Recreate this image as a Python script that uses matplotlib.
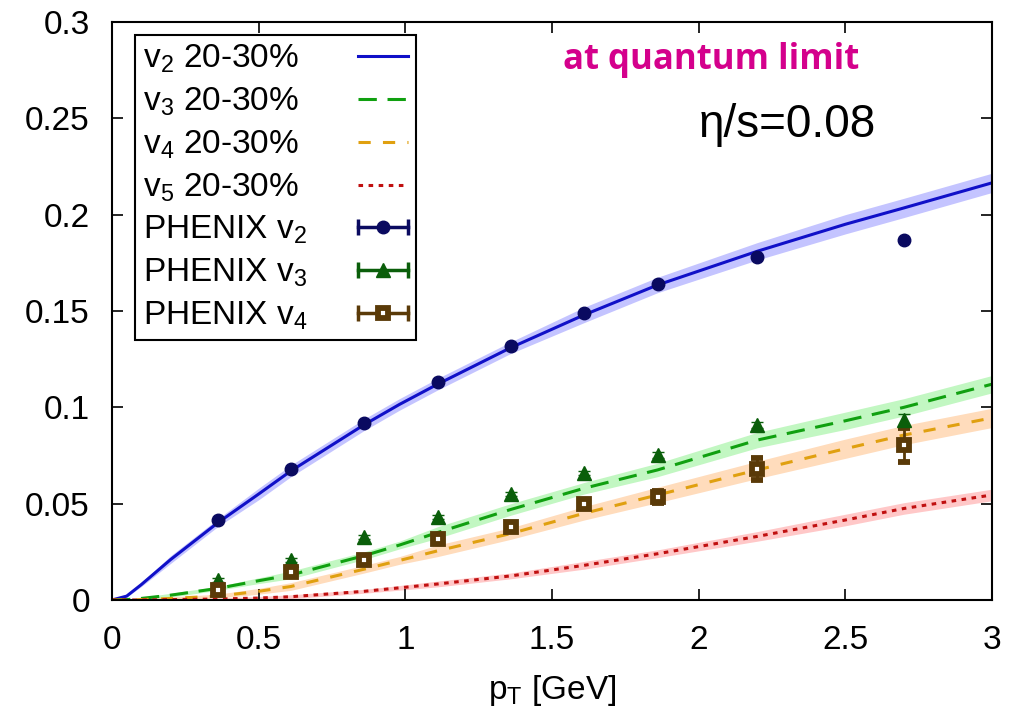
import numpy as np
import matplotlib.pyplot as plt
from matplotlib.lines import Line2D
from matplotlib.legend_handler import HandlerLine2D, HandlerTuple

plt.rcParams['font.family'] = ['Liberation Sans', 'DejaVu Sans']
plt.rcParams['mathtext.default'] = 'regular'

# ---------------- hydro curves ----------------
pt_curve = [0.0, 0.05, 0.1, 0.2, 0.36, 0.5, 0.61, 0.86, 0.98, 1.11, 1.36, 1.61, 1.86, 2.2, 2.5, 2.7, 3.0]
v2_curve = [0.0, 0.002, 0.008, 0.021, 0.040, 0.055, 0.067, 0.091, 0.1015, 0.112, 0.131, 0.148, 0.1635, 0.181, 0.195, 0.2035, 0.2165]
v3_curve = [0.0, 0.0002, 0.0008, 0.0025, 0.006, 0.0100, 0.013, 0.023, 0.0285, 0.035, 0.047, 0.058, 0.0675, 0.083, 0.093, 0.100, 0.112]
v4_curve = [0.0, 0.0, 0.0002, 0.0008, 0.002, 0.0045, 0.007, 0.016, 0.0205, 0.0255, 0.0345, 0.045, 0.0545, 0.0675, 0.0785, 0.0856, 0.0945]
v5_curve = [0.0, 0.0, 0.0, 0.0002, 0.0005, 0.001, 0.0017, 0.0045, 0.0063, 0.0083, 0.0125, 0.018, 0.024, 0.033, 0.0415, 0.0475, 0.0545]
v2_band = [0.0, 0.0005, 0.001, 0.002, 0.002, 0.003, 0.003, 0.003, 0.003, 0.003, 0.003, 0.004, 0.004, 0.0045, 0.005, 0.005, 0.005]
v3_band = [0.0, 0.0, 0.0005, 0.001, 0.001, 0.0015, 0.002, 0.002, 0.002, 0.003, 0.003, 0.003, 0.0035, 0.004, 0.0045, 0.0045, 0.0045]
v4_band = [0.0, 0.0, 0.0003, 0.0008, 0.001, 0.0015, 0.002, 0.002, 0.002, 0.003, 0.003, 0.0035, 0.004, 0.0045, 0.005, 0.005, 0.005]
v5_band = [0.0, 0.0, 0.0, 0.0003, 0.0005, 0.0008, 0.001, 0.001, 0.0012, 0.0015, 0.0015, 0.002, 0.002, 0.0025, 0.003, 0.003, 0.003]

# ---------------- PHENIX data ----------------
pt_data = [0.36, 0.61, 0.86, 1.11, 1.36, 1.61, 1.86, 2.2, 2.7]
v2_data = [0.0415, 0.068, 0.092, 0.113, 0.132, 0.149, 0.164, 0.178, 0.187]
v2_err  = [0.0005, 0.0005, 0.0005, 0.0005, 0.0005, 0.0005, 0.0005, 0.0008, 0.001]
v3_data = [0.0104, 0.0208, 0.0327, 0.043, 0.055, 0.066, 0.0753, 0.091, 0.0934]
v3_err  = [0.001, 0.001, 0.001, 0.001, 0.001, 0.001, 0.0015, 0.0015, 0.003]
v4_data = [0.0052, 0.0145, 0.021, 0.0317, 0.038, 0.050, 0.0535, 0.068, 0.0805]
v4_err  = [0.0015, 0.0015, 0.0015, 0.0015, 0.0015, 0.002, 0.003, 0.0057, 0.0088]

fig = plt.figure(figsize=(10.22, 7.14), dpi=100)
ax = fig.add_axes([0.1096, 0.1597, 0.861, 0.8095])

pt = np.array(pt_curve)
for c, b, fc in [(v2_curve, v2_band, '#c4c4ff'), (v3_curve, v3_band, '#c2f7c2'),
                 (v4_curve, v4_band, '#ffdcbc'), (v5_curve, v5_band, '#ffc8c8')]:
    c = np.array(c); b = np.array(b)
    ax.fill_between(pt, c - b, c + b, color=fc, lw=0, zorder=1)

l2, = ax.plot(pt_curve, v2_curve, '-', color='#1010c8', lw=2.2, zorder=2)
l3, = ax.plot(pt_curve, v3_curve, color='#10a010', lw=2.2, dashes=(6, 3.5), zorder=2)
l4, = ax.plot(pt_curve, v4_curve, color='#e0a010', lw=2.2, dashes=(4, 4), zorder=2)
l5, = ax.plot(pt_curve, v5_curve, color='#c01010', lw=2.2, dashes=(1.5, 1.8), zorder=2)

phenix = [(v2_data, v2_err, 'o', '#0a0a60', '#0a0a60', 9, 1),
          (v3_data, v3_err, '^', '#0a5e0a', '#0a5e0a', 10, 1),
          (v4_data, v4_err, 's', '#5a3a08', 'white', 6.5, 4.2)]
handles = [l2, l3, l4, l5]
hmap = {}
for vals, errs, mk, col, mfc, ms, mew in phenix:
    ax.errorbar(pt_data, vals, errs, fmt=mk, color=col, mfc=mfc, mec=col, mew=mew, ms=ms,
                lw=2, capsize=4, capthick=2, zorder=3)
    bar = Line2D([], [], color=col, lw=2.5, marker='|', ms=12, mew=2.5)
    dot = Line2D([], [], ls='none', marker=mk, color=col, mfc=mfc, mec=col, mew=mew, ms=ms)
    hmap[bar] = HandlerLine2D(numpoints=2, marker_pad=0)
    hmap[dot] = HandlerLine2D(numpoints=1)
    handles.append((bar, dot))
hmap[tuple] = HandlerTuple(ndivide=1, pad=0)

labels = ['v$_2$ 20-30%', 'v$_3$ 20-30%', 'v$_4$ 20-30%', 'v$_5$ 20-30%',
          'PHENIX v$_2$', 'PHENIX v$_3$', 'PHENIX v$_4$']

ax.set_xlim(0, 3)
ax.set_ylim(0, 0.3)
ax.set_xticks(np.arange(0, 3.01, 0.5))
ax.set_xticklabels(['0', '0.5', '1', '1.5', '2', '2.5', '3'])
ax.set_yticks(np.arange(0, 0.301, 0.05))
ax.set_yticklabels(['0', '0.05', '0.1', '0.15', '0.2', '0.25', '0.3'])
ax.tick_params(direction='in', length=8, width=1.2, labelsize=24, top=True, right=True)
ax.tick_params(axis='y', pad=16)
ax.tick_params(axis='x', pad=18)
for s in ax.spines.values():
    s.set_linewidth(1.5)
ax.set_xlabel('p$_T$ [GeV]', fontsize=24, labelpad=12)

ax.text(0.681, 0.934, 'at quantum limit', transform=ax.transAxes, color='#d4008c',
        fontsize=25, fontweight='bold', family='Open Sans', ha='center', va='center')
ax.text(0.768, 0.822, 'η/s=0.08', transform=ax.transAxes, color='black',
        fontsize=33, ha='center', va='center')

leg = ax.legend(handles, labels, handler_map=hmap, loc='upper left', bbox_to_anchor=(0.026, 0.978),
                markerfirst=False, fontsize=24, handlelength=1.5, handletextpad=1.5,
                labelspacing=0.31, borderpad=0.25, borderaxespad=0,
                fancybox=False, framealpha=1, edgecolor='black')
leg.get_frame().set_linewidth(1.5)

# left-align the legend texts (gnuplot style: text left, sample right)
fig.canvas.draw()
r = fig.canvas.get_renderer()
widths = [t.get_window_extent(r).width for t in leg.get_texts()]
for t, w in zip(leg.get_texts(), widths):
    t.set_x(t.get_position()[0] - (max(widths) - w))

fig.savefig('out.png', dpi=100)
